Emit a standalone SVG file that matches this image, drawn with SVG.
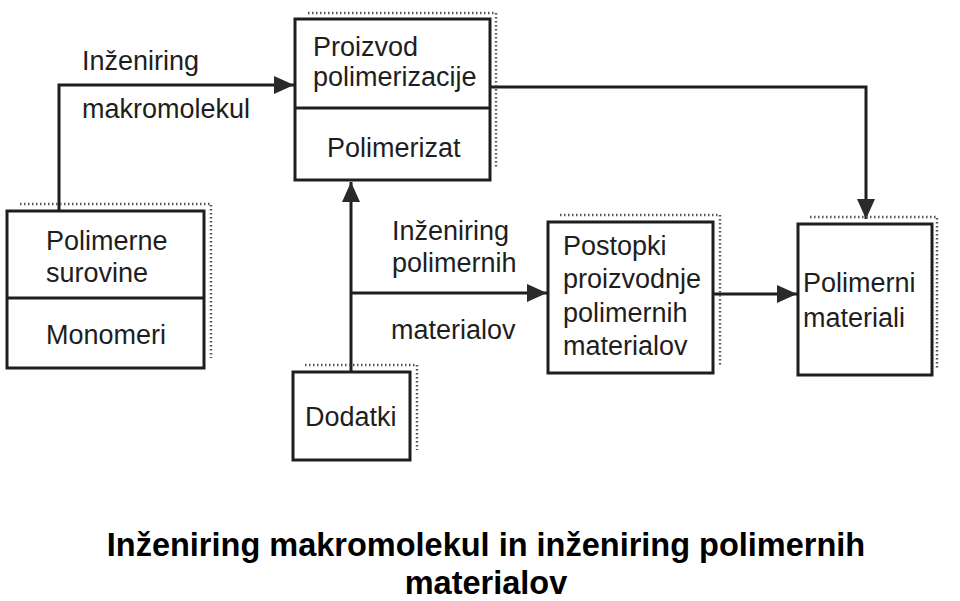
<svg xmlns="http://www.w3.org/2000/svg" width="960" height="601" viewBox="0 0 960 601">
<style>
.box{fill:#fff;stroke:#1e1e1e;stroke-width:3}
.div{stroke:#1e1e1e;stroke-width:3}
.shadow{fill:none;stroke:#555;stroke-width:2.5;stroke-dasharray:1.5 2.5}
.t{font-family:"Liberation Sans",Arial,sans-serif;font-size:27px;fill:#1e1e1e}
.cap{font-family:"Liberation Sans",Arial,sans-serif;font-size:32.5px;font-weight:bold;fill:#000;text-anchor:middle}
.conn{fill:none;stroke:#1e1e1e;stroke-width:3}
</style>
<defs>
<marker id="arr" viewBox="0 0 20 20" refX="20" refY="10" markerWidth="20" markerHeight="20" markerUnits="userSpaceOnUse" orient="auto">
<path d="M0,1 L20,10 L0,19 z" fill="#2a2a2a"/>
</marker>
</defs>
<rect width="960" height="601" fill="#fff"/>

<g id="connectors">
<path class="conn" d="M59,211 V85 H294" marker-end="url(#arr)"/>
<path class="conn" d="M490,87 H866 V219" marker-end="url(#arr)"/>
<path class="conn" d="M351,372 V182" marker-end="url(#arr)"/>
<path class="conn" d="M351,293 H547" marker-end="url(#arr)"/>
<path class="conn" d="M713,294 H797" marker-end="url(#arr)"/>
</g>

<g id="label-makromolekul">
<text class="t" x="82" y="70">Inženiring</text>
<text class="t" x="82" y="118">makromolekul</text>
</g>
<g id="label-materialov">
<text class="t" x="392" y="240">Inženiring</text>
<text class="t" x="392" y="272">polimernih</text>
<text class="t" x="391" y="339">materialov</text>
</g>

<g id="node-proizvod">
<polyline class="shadow" points="308,13 496,13 496,168"/>
<rect class="box" x="295" y="19" width="195" height="161"/>
<line class="div" x1="295" y1="108" x2="490" y2="108"/>
<text class="t" x="313" y="56">Proizvod</text>
<text class="t" x="313" y="86">polimerizacije</text>
<text class="t" x="327" y="157">Polimerizat</text>
</g>

<g id="node-surovine">
<polyline class="shadow" points="20,204 211,204 211,358"/>
<rect class="box" x="7" y="211" width="197" height="157"/>
<line class="div" x1="7" y1="298" x2="204" y2="298"/>
<text class="t" x="46" y="250">Polimerne</text>
<text class="t" x="46" y="282">surovine</text>
<text class="t" x="46" y="344">Monomeri</text>
</g>

<g id="node-dodatki">
<polyline class="shadow" points="305,365 417,365 417,450"/>
<rect class="box" x="293" y="372" width="117" height="88"/>
<text class="t" x="305" y="426">Dodatki</text>
</g>

<g id="node-postopki">
<polyline class="shadow" points="560,215 720,215 720,365"/>
<rect class="box" x="548" y="222" width="165" height="151"/>
<text class="t" x="563" y="255">Postopki</text>
<text class="t" x="563" y="288">proizvodnje</text>
<text class="t" x="563" y="322">polimernih</text>
<text class="t" x="563" y="355">materialov</text>
</g>

<g id="node-polimerni">
<polyline class="shadow" points="810,217 937,217 937,368"/>
<rect class="box" x="798" y="224" width="134" height="151"/>
<text class="t" x="803" y="292">Polimerni</text>
<text class="t" x="803" y="327">materiali</text>
</g>

<g id="caption">
<text class="cap" x="486" y="556">Inženiring makromolekul in inženiring polimernih</text>
<text class="cap" x="486" y="594">materialov</text>
</g>
</svg>
